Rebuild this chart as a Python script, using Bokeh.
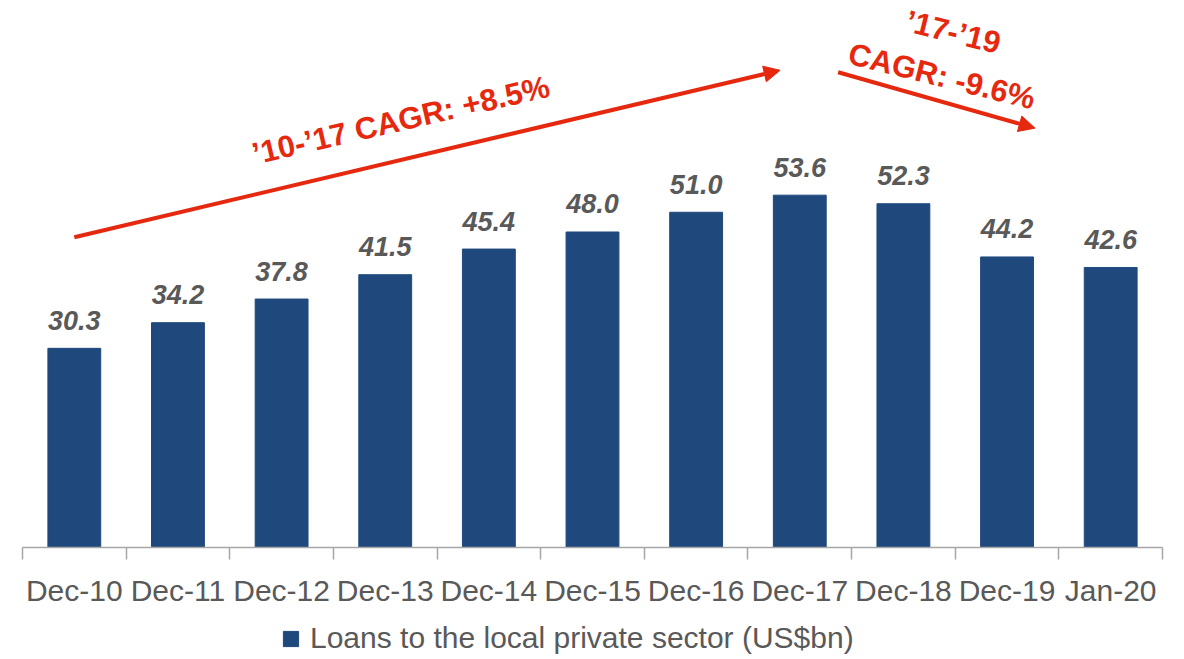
from bokeh.plotting import figure
from bokeh.layouts import column
from bokeh.models import (ColumnDataSource, FixedTicker, Arrow, NormalHead, Legend, LegendItem, Range1d)
from bokeh.core.properties import value
from bokeh.embed import file_html
from bokeh.resources import INLINE
import math

categories = ["Dec-10", "Dec-11", "Dec-12", "Dec-13", "Dec-14", "Dec-15",
              "Dec-16", "Dec-17", "Dec-18", "Dec-19", "Jan-20"]
loans = [30.3, 34.2, 37.8, 41.5, 45.4, 48.0, 51.0, 53.6, 52.3, 44.2, 42.6]
series_name = "Loans to the local private sector (US$bn)"
cagr_up_text = "\u201910-\u201917 CAGR: +8.5%"
cagr_down_line1 = "\u201917-\u201919"
cagr_down_line2 = "CAGR: -9.6%"

FONT = "Liberation Sans"
BAR = "#1F497D"
RED = "#E6280F"
GREY = "#595959"

idx = list(range(len(categories)))
labels = [f"{v:.1f}" for v in loans]
src = ColumnDataSource(data=dict(x=idx, top=loans, label=labels))

p = figure(frame_width=1140, frame_height=539, output_backend="svg", toolbar_location=None,
           x_range=Range1d(-0.5, len(categories) - 0.5), y_range=Range1d(0, 82.0),
           y_axis_location=None, min_border_left=22, min_border_right=14,
           min_border_top=8, min_border_bottom=70)
p.outline_line_color = None
p.xgrid.visible = False
p.ygrid.visible = False

bars = p.vbar(x="x", top="top", width=0.51, source=src, fill_color=BAR, line_color=BAR)

p.text(x="x", y="top", text="label", source=src, y_offset=-28,
       text_align="center", text_baseline="alphabetic",
       text_font=value(FONT), text_font_size="27px", text_font_style="bold italic",
       text_color=GREY)

ax = p.xaxis[0]
ax.ticker = FixedTicker(ticks=idx, minor_ticks=[i - 0.5 for i in range(len(categories) + 1)])
ax.major_label_overrides = {i: c for i, c in enumerate(categories)}
ax.major_tick_out = 0
ax.major_tick_in = 0
ax.minor_tick_out = 12
ax.minor_tick_in = 0
ax.minor_tick_line_color = "#A6A6A6"
ax.minor_tick_line_width = 1.5
ax.axis_line_color = "#A6A6A6"
ax.axis_line_width = 1.5
ax.major_label_standoff = 14
ax.major_label_text_font = FONT
ax.major_label_text_font_size = "30px"
ax.major_label_text_color = GREY

# CAGR arrows (positions in data units, relative to the bars)
p.add_layout(Arrow(end=NormalHead(size=16, fill_color=RED, line_color=RED),
                   x_start=0.0, y_start=47.2, x_end=6.81, y_end=72.6,
                   line_color=RED, line_width=4))
p.add_layout(Arrow(end=NormalHead(size=16, fill_color=RED, line_color=RED),
                   x_start=7.37, y_start=72.3, x_end=9.27, y_end=63.8,
                   line_color=RED, line_width=4))

p.text(x=[3.15], y=[65.0], text=[cagr_up_text], angle=math.radians(13),
       text_align="center", text_baseline="middle", text_font=value(FONT),
       text_font_size="31px", text_font_style="bold", text_color=RED)
p.text(x=[8.48, 8.37], y=[78.4, 71.7], text=[cagr_down_line1, cagr_down_line2],
       angle=math.radians(-14), text_align="center", text_baseline="middle",
       text_font=value(FONT), text_font_size="31px", text_font_style="bold",
       text_color=RED)

# Legend strip below the chart (key renderer is hidden, only its legend swatch shows)
p2 = figure(width=1176, height=40, output_backend="svg", toolbar_location=None,
            x_range=Range1d(0, 1), y_range=Range1d(0, 1),
            x_axis_location=None, y_axis_location=None,
            min_border_left=0, min_border_right=0, min_border_top=0, min_border_bottom=0)
p2.outline_line_color = None
p2.xgrid.visible = False
p2.ygrid.visible = False
key = p2.vbar(x="x", top="top", width=0.51, source=src, fill_color=BAR, line_color=BAR,
              visible=False)
legend = Legend(items=[LegendItem(label=series_name, renderers=[key])],
                location=(259, 2), orientation="horizontal",
                glyph_width=19, glyph_height=19, label_standoff=10,
                label_text_font=FONT, label_text_font_size="30px",
                label_text_color=GREY, padding=0, margin=0, spacing=0,
                inactive_fill_alpha=0,
                border_line_color=None, background_fill_alpha=0)
p2.add_layout(legend, "center")

open("out.html", "w").write(file_html(column(p, p2, spacing=0), INLINE))
